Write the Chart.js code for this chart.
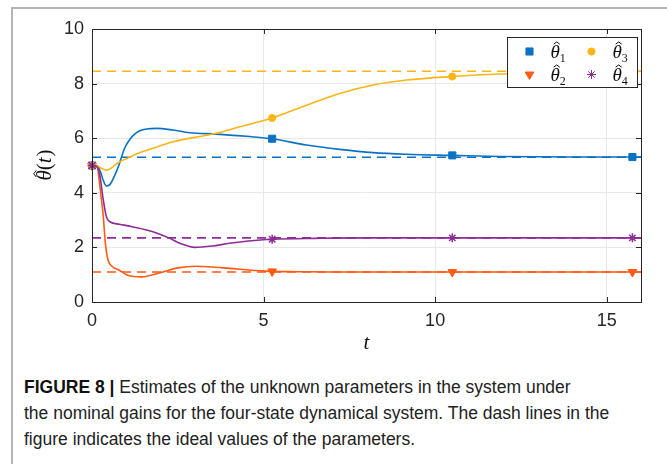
<!DOCTYPE html>
<html>
<head>
<meta charset="utf-8">
<script src="https://cdn.jsdelivr.net/npm/chart.js@4.4.0/dist/chart.umd.min.js"></script>
<style>
  html, body { margin: 0; padding: 0; background: #fff; }
  #wrap { position: relative; width: 667px; height: 464px; overflow: hidden; }
  #frame { position: absolute; left: 11px; top: 7px; width: 700px; height: 500px;
           border-left: 2px solid #b4b4b4; border-top: 2px solid #b4b4b4; }
  #plot { position: absolute; left: 0; top: 0; }
  #caption { position: absolute; left: 24px; top: 374px; width: 640px;
             font-family: "Liberation Sans", Arial, sans-serif; font-size: 17.5px;
             line-height: 26px; color: #222; white-space: nowrap; }
  #caption b { font-weight: bold; color: #111; }
</style>
</head>
<body>
<div id="wrap">
  <div id="frame"></div>
  <canvas id="plot" width="667" height="360"></canvas>
  <div id="caption"><b>FIGURE 8 |</b> Estimates of the unknown parameters in the system under<br>the nominal gains for the four-state dynamical system. The dash lines in the<br>figure indicates the ideal values of the parameters.</div>
</div>
<script>
// time axis / ticks
const xTicks = [0, 5, 10, 15];
const yTicks = [0, 2, 4, 6, 8, 10];
const markerTimes = [0, 5.25, 10.5, 15.75];

// estimates
const theta1T = [0, 0.15, 0.25, 0.33, 0.42, 0.52, 0.65, 0.77, 0.93, 1.1, 1.39, 1.88, 2.36, 2.85, 3.63, 4.6, 5.25, 6.25, 7.22, 8.19, 9.17, 10.5, 11.89, 14, 15.75, 16];
const theta1V = [5, 4.98, 4.75, 4.45, 4.25, 4.3, 4.6, 4.96, 5.57, 5.95, 6.27, 6.36, 6.3, 6.2, 6.15, 6.06, 5.98, 5.75, 5.59, 5.47, 5.41, 5.37, 5.33, 5.31, 5.31, 5.31];

const theta2T = [0, 0.15, 0.22, 0.28, 0.33, 0.39, 0.47, 0.6, 0.76, 1.04, 1.44, 2.07, 2.5, 3.04, 3.5, 4.01, 5.08, 5.25, 6, 7, 8, 10.5, 15.75, 16];
const theta2V = [5, 4.95, 4.35, 3.7, 3.12, 2.15, 1.53, 1.29, 1.19, 0.98, 0.92, 1.1, 1.25, 1.31, 1.28, 1.23, 1.13, 1.12, 1.11, 1.1, 1.1, 1.1, 1.1, 1.1];

const theta3T = [0, 0.15, 0.3, 0.42, 0.55, 0.75, 1.0, 1.39, 1.9, 2.36, 3.0, 3.63, 4.31, 5.25, 6.25, 7.22, 8.19, 9.17, 10.5, 11.89, 13.5, 15.75, 16];
const theta3V = [5, 4.98, 4.88, 4.83, 4.9, 5.09, 5.25, 5.47, 5.68, 5.87, 6.03, 6.18, 6.42, 6.74, 7.21, 7.64, 7.95, 8.13, 8.26, 8.35, 8.4, 8.44, 8.45];

const theta4T = [0, 0.15, 0.22, 0.33, 0.42, 0.52, 0.8, 1.2, 1.59, 1.9, 2.27, 2.6, 2.99, 3.5, 4.01, 5.08, 5.25, 6.5, 8, 10.5, 15.75, 16];
const theta4V = [5, 4.95, 4.7, 3.73, 3.12, 2.94, 2.85, 2.75, 2.64, 2.52, 2.33, 2.13, 2.0, 2.05, 2.15, 2.29, 2.3, 2.33, 2.35, 2.35, 2.35, 2.35];

// ideal parameter values (dash lines)
const idealValues = [5.3, 1.1, 8.45, 2.35];
const tEnd = 16;

const seriesColors = ['#0a72c4', '#ff5a14', '#fdb515', '#8f2c97'];
const seriesSubs = ['1', '2', '3', '4'];
const seriesStyles = ['rect', 'triangle', 'circle', 'star'];
const seriesRadius = [5, 5, 3.6, 4.5];
const seriesRotation = [0, 180, 0, 0];

const series = [[theta1T, theta1V], [theta2T, theta2V], [theta3T, theta3V], [theta4T, theta4V]];

function toPoints(ts, vs) {
    return ts.map((t, i) => ({ x: t, y: vs[i] }));
}

const solidSets = series.map(([ts, vs], i) => ({
    label: 'θ' + seriesSubs[i],
    sub: seriesSubs[i],
    data: toPoints(ts, vs),
    borderColor: seriesColors[i],
    backgroundColor: seriesColors[i],
    borderWidth: 1.6,
    cubicInterpolationMode: 'monotone',
    pointStyle: seriesStyles[i],
    rotation: seriesRotation[i],
    pointBorderWidth: seriesStyles[i] === 'star' ? 1.5 : 1,
    pointRadius: ctx => (markerTimes.includes(ctx.raw.x) ? seriesRadius[i] : 0),
    pointHoverRadius: 0,
    clip: false,
    order: 4 - i
}));

const dashSets = idealValues.map((v, i) => ({
    label: 'ideal ' + seriesSubs[i],
    data: [{ x: 0, y: v }, { x: tEnd, y: v }],
    borderColor: seriesColors[i],
    borderWidth: 1.6,
    borderDash: [9, 6],
    pointRadius: 0,
    order: 10
}));

// italic theta with a hat, baseline at (x, y); returns advance width
function drawThetaHat(ctx, x, y, size) {
    ctx.font = 'italic ' + size + 'px "Liberation Serif"';
    ctx.fillText('θ', x, y);
    const w = ctx.measureText('θ').width;
    const cx = x + w / 2 + size * 0.08;
    const top = y - size * 0.72 - size * 0.1;
    ctx.save();
    ctx.lineWidth = 1;
    ctx.beginPath();
    ctx.moveTo(cx - size * 0.16, top + size * 0.12);
    ctx.lineTo(cx, top);
    ctx.lineTo(cx + size * 0.16, top + size * 0.12);
    ctx.stroke();
    ctx.restore();
    return w;
}

// box with inward ticks, y title + legend, MATLAB style
const axesBox = {
    id: 'axesBox',
    afterDraw(chart) {
        const ctx = chart.ctx;
        const a = chart.chartArea;
        const xs = chart.scales.x, ys = chart.scales.y;
        ctx.save();
        ctx.strokeStyle = '#262626';
        ctx.lineWidth = 1;
        ctx.beginPath();
        xTicks.forEach(v => {
            const px = Math.round(xs.getPixelForValue(v)) + 0.5;
            ctx.moveTo(px, a.bottom); ctx.lineTo(px, a.bottom - 5);
            ctx.moveTo(px, a.top); ctx.lineTo(px, a.top + 5);
        });
        yTicks.forEach(v => {
            const py = Math.round(ys.getPixelForValue(v)) + 0.5;
            ctx.moveTo(a.left, py); ctx.lineTo(a.left + 5, py);
            ctx.moveTo(a.right, py); ctx.lineTo(a.right - 5, py);
        });
        ctx.stroke();
        ctx.strokeRect(Math.round(a.left) + 0.5, Math.round(a.top) + 0.5,
            Math.round(a.right - a.left), Math.round(a.bottom - a.top));

        // y axis title: theta-hat(t), rotated
        ctx.save();
        ctx.translate(51, (a.top + a.bottom) / 2);
        ctx.rotate(-Math.PI / 2);
        ctx.fillStyle = '#111';
        ctx.strokeStyle = '#111';
        ctx.textBaseline = 'alphabetic';
        ctx.textAlign = 'left';
        ctx.font = 'italic 21px "Liberation Serif"';
        const full = ctx.measureText('θ(t)').width;
        const x0 = -full / 2;
        const tw = drawThetaHat(ctx, x0, 0, 21);
        ctx.font = '21px "Liberation Serif"';
        ctx.fillText('(', x0 + tw, 0);
        const pw = ctx.measureText('(').width;
        ctx.font = 'italic 21px "Liberation Serif"';
        ctx.fillText('t', x0 + tw + pw, 0);
        const tt = ctx.measureText('t').width;
        ctx.font = '21px "Liberation Serif"';
        ctx.fillText(')', x0 + tw + pw + tt + 1, 0);
        ctx.restore();

        // legend
        const w = 130, h = 50;
        const lx = Math.round(a.right) - 4 - w + 0.5, ly = Math.round(a.top) + 8 + 0.5;
        ctx.fillStyle = '#fff';
        ctx.fillRect(lx, ly, w, h);
        ctx.strokeStyle = '#262626';
        ctx.strokeRect(lx, ly, w, h);
        const order = [0, 2, 1, 3];
        order.forEach((idx, k) => {
            const col = k % 2, row = Math.floor(k / 2);
            const mx = lx + 22 + col * 62;
            const my = ly + 14 + row * 23;
            const ds = chart.data.datasets[idx];
            ctx.fillStyle = ds.borderColor;
            ctx.strokeStyle = ds.borderColor;
            Chart.helpers.drawPoint(ctx, {
                pointStyle: ds.pointStyle,
                rotation: ds.rotation,
                radius: seriesRadius[idx],
                borderWidth: ds.pointStyle === 'star' ? 1.5 : 1
            }, mx, my);
            ctx.fillStyle = '#111';
            ctx.strokeStyle = '#111';
            ctx.textBaseline = 'alphabetic';
            ctx.textAlign = 'left';
            const mw = drawThetaHat(ctx, mx + 21, my + 6, 19);
            ctx.font = '12px "Liberation Serif"';
            ctx.fillText(ds.sub, mx + 21 + mw, my + 10);
        });
        ctx.restore();
    }
};

const tickFont = { family: '"Liberation Sans", Arial, sans-serif', size: 18 };

new Chart(document.getElementById('plot'), {
    type: 'line',
    data: { datasets: solidSets.concat(dashSets) },
    options: {
        responsive: false,
        animation: false,
        devicePixelRatio: 1,
        layout: { padding: { left: 0, right: 26, top: 29, bottom: 0 } },
        plugins: { legend: { display: false }, tooltip: { enabled: false } },
        scales: {
            x: {
                type: 'linear',
                min: 0,
                max: tEnd,
                afterBuildTicks: s => { s.ticks = xTicks.map(v => ({ value: v })); },
                afterFit: s => { s.height = 58; },
                grid: { color: '#e8e8e8', drawTicks: false },
                border: { display: false },
                ticks: { font: tickFont, color: '#262626', padding: 8, maxRotation: 0 },
                title: {
                    display: true, text: 't', color: '#111',
                    font: { family: '"Liberation Serif", serif', size: 21, style: 'italic' },
                    padding: { top: 0, bottom: 4 }
                }
            },
            y: {
                min: 0,
                max: 10,
                afterBuildTicks: s => { s.ticks = yTicks.map(v => ({ value: v })); },
                afterFit: s => { s.width = 92; },
                grid: { color: '#e8e8e8', drawTicks: false },
                border: { display: false },
                ticks: { font: tickFont, color: '#262626', padding: 8 }
            }
        }
    },
    plugins: [axesBox]
});
</script>
</body>
</html>
